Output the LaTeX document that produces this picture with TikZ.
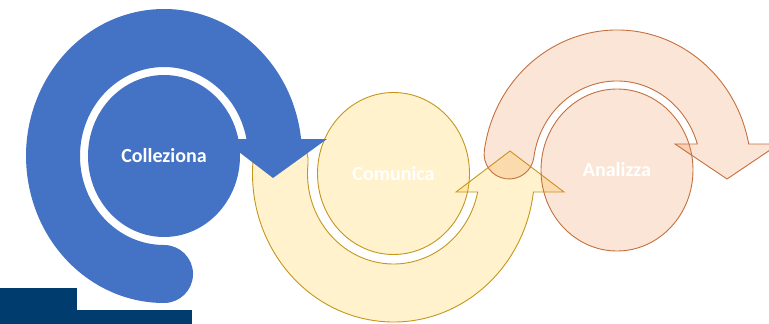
\documentclass[tikz,border=0pt]{standalone}
\usepackage{fontspec}
\newfontfamily\labelfont{Carlito}
\usetikzlibrary{shapes.geometric}

\definecolor{cblue}{HTML}{4472C4}
\definecolor{cgold}{HTML}{FFC000}
\definecolor{cgoldline}{RGB}{196,150,30}
\definecolor{corange}{HTML}{ED7D31}
\definecolor{corangeline}{RGB}{196,112,62}
\definecolor{cnavy}{RGB}{1,60,110}

\begin{document}
\begin{tikzpicture}[x=1pt,y=-1pt,
  bluepart/.style={fill=cblue},
  goldpart/.style={fill=cgold, fill opacity=0.2, draw=cgoldline, line width=0.9pt, line join=miter},
  orangepart/.style={fill=corange, fill opacity=0.2, draw=corangeline, line width=0.9pt, line join=miter},
  hub/.style={ellipse, inner sep=0pt, outer sep=0pt,
    minimum width=152pt, minimum height=162pt,
    text=white, text opacity=1,
    font=\labelfont\bfseries\fontsize{20}{24}\selectfont},
  ]
  \useasboundingbox (0,0) rectangle (769,324);
  \clip (0,0) rectangle (769,324);

  % navy corner blocks
  \fill[cnavy] (0,288) rectangle (77,324);
  \fill[cnavy] (0,310) rectangle (192,324);

  % --- Comunica: gold hub and arc turning up ---
  \node[hub, goldpart] (comunica) at (393.5,173.5) {Comunica};
  \path[goldpart] (307.97,164.04)
    arc[start angle=186, end angle=11.8, x radius=86, y radius=90.5]
    -- (456,192) -- (510,151) -- (564,192) -- (533.4,192)
    arc[start angle=7.16, end angle=186, x radius=141, y radius=148.5]
    arc[start angle=186, end angle=366, radius=27.5] -- cycle;

  % --- Analizza: orange hub and arc over the top ---
  \node[hub, orangepart] (analizza) at (617,170) {Analizza};
  \path[orangepart] (533.8,157.6)
    arc[start angle=188, end angle=343, x radius=84, y radius=89]
    -- (675,144) -- (727,179) -- (779,144) -- (748.7,144)
    arc[start angle=349.3, end angle=188, x radius=134, y radius=140]
    arc[start angle=188, end angle=8, radius=25] -- cycle;

  % --- Colleziona: blue hub and arc round the left ---
  \node[hub, bluepart] (colleziona) at (164,156) {Colleziona};
  \path[bluepart] (164,245)
    arc[start angle=90, end angle=349, x radius=84, y radius=89]
    -- (222,139) -- (273,178) -- (327,139) -- (301.1,139)
    arc[start angle=353.36, end angle=90, x radius=138, y radius=147]
    arc[start angle=90, end angle=-90, radius=29] -- cycle;
\end{tikzpicture}
\end{document}
